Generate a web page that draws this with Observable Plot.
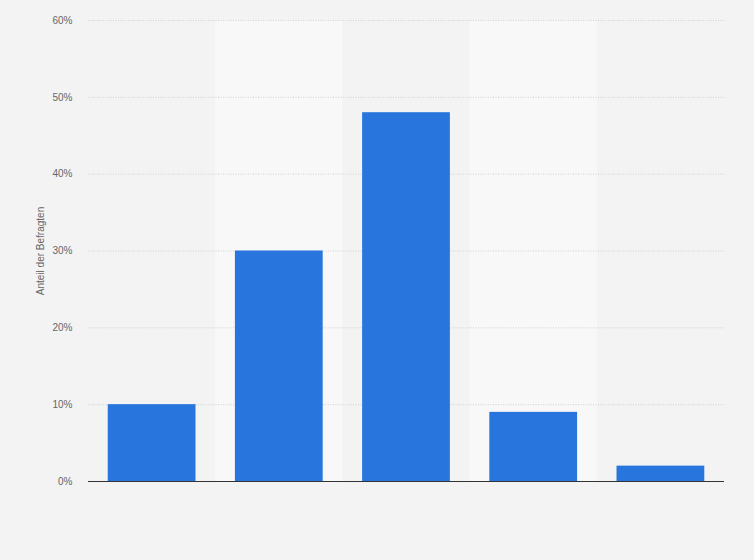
<!DOCTYPE html>
<html>
<head>
<meta charset="utf-8">
<script src="https://cdn.jsdelivr.net/npm/d3@7"></script>
<script src="https://cdn.jsdelivr.net/npm/@observablehq/plot@0.6"></script>
<style>
  html, body { margin: 0; padding: 0; background: #f3f3f3; }
  #chart svg { display: block; }
</style>
</head>
<body>
<div id="chart"></div>
<script>
const categories = ["Kategorie 1", "Kategorie 2", "Kategorie 3", "Kategorie 4", "Kategorie 5"];
const values = [10, 30, 48, 9, 2];
const yTicks = [0, 10, 20, 30, 40, 50, 60];
const shadedColumns = [1, 3];

const data = categories.map((c, i) => ({category: c, index: i, value: values[i]}));
const bands = shadedColumns.map(i => ({index: i}));
const barPad = 0.155;

const chart = Plot.plot({
  width: 754,
  height: 560,
  marginLeft: 88,
  marginRight: 30,
  marginTop: 20,
  marginBottom: 79,
  style: {background: "#f3f3f3", fontFamily: "'Liberation Sans', Arial, sans-serif", fontSize: "10px", color: "#666"},
  x: {type: "linear", domain: [0, categories.length], axis: null},
  y: {domain: [0, 60]},
  marks: [
    Plot.rectY(bands, {x1: d => d.index, x2: d => d.index + 1, y1: 0, y2: 60, fill: "#f8f8f8"}),
    Plot.ruleY(yTicks.filter(t => t > 0), {stroke: "#d0d0d0", strokeDasharray: "1,1.5", strokeWidth: 1}),
    Plot.axisY({ticks: yTicks, tickFormat: d => d + "%", tickSize: 0, tickPadding: 16, fill: "#666",
      label: "Anteil der Befragten", labelAnchor: "center", labelArrow: "none", labelOffset: 52}),
    Plot.rectY(data, {x1: d => d.index + barPad, x2: d => d.index + 1 - barPad, y: "value", fill: "#2876dd"}),
    Plot.ruleY([0], {stroke: "#333", strokeWidth: 1.2})
  ]
});
document.getElementById("chart").appendChild(chart);
</script>
</body>
</html>
